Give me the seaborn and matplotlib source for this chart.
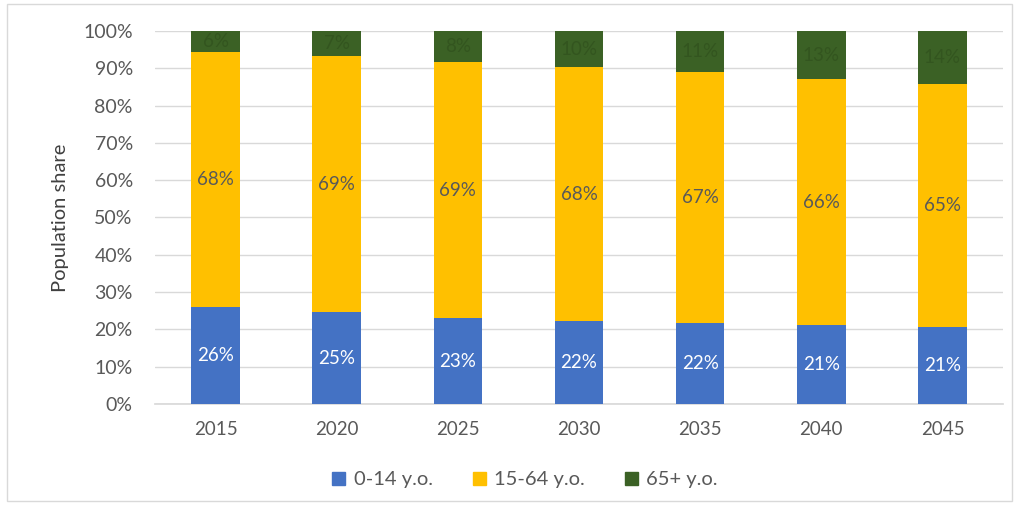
import matplotlib
matplotlib.use("Agg")
import matplotlib.pyplot as plt
import seaborn as sns
import pandas as pd
import numpy as np
from matplotlib.patches import Rectangle

years = ["2015", "2020", "2025", "2030", "2035", "2040", "2045"]
age_0_14 = [26.0, 24.6, 23.0, 22.3, 21.7, 21.2, 20.6]
age_15_64 = [68.4, 68.7, 68.7, 68.0, 67.3, 65.9, 65.2]
age_65p = [5.6, 6.7, 8.3, 9.7, 11.0, 12.9, 14.2]
series_names = ["0-14 y.o.", "15-64 y.o.", "65+ y.o."]
colors = ["#4472C4", "#FFC000", "#3B6125"]
label_colors = ["#FFFFFF", "#595959", "#33551F"]

sns.set_theme(style="white")
plt.rcParams["font.family"] = ["Lato", "DejaVu Sans"]

df = pd.DataFrame({"year": years, series_names[0]: age_0_14,
                   series_names[1]: age_15_64, series_names[2]: age_65p})

fig = plt.figure(figsize=(10.19, 5.09), dpi=100)
ax = fig.add_axes([155 / 1019, 1 - 404 / 509, (1003 - 155) / 1019, (404 - 31) / 509])

cum = np.zeros(len(years))
handles = []
for name, col in zip(series_names, colors):
    vals = df[name].to_numpy()
    tops = cum + vals
    sns.barplot(x=df["year"], y=tops, color=col, width=0.4, ax=ax,
                saturation=1, edgecolor="none")
    cum = tops

n = len(years)
for i, p in enumerate(ax.patches):
    p.set_zorder(5 - i // n)

cum = np.zeros(len(years))
for name, col, lc in zip(series_names, colors, label_colors):
    vals = df[name].to_numpy()
    for i, v in enumerate(vals):
        ax.text(i, cum[i] + v / 2, f"{round(v):d}%", ha="center", va="center",
                fontsize=13.5, color=lc, zorder=10)
    cum = cum + vals
    handles.append(Rectangle((0, 0), 1, 1, color=col))

ax.set_ylim(0, 100)
ax.set_xlim(-0.5, 6.5)
ax.set_yticks(np.arange(0, 101, 10))
ax.set_yticklabels([f"{t}%" for t in range(0, 101, 10)], fontsize=14, color="#595959")
ax.tick_params(axis="x", labelsize=13.5, colors="#595959", length=0, pad=12)
ax.tick_params(axis="y", length=0, pad=16)
ax.yaxis.grid(True, color="#D9D9D9", linewidth=1, zorder=0)
ax.set_axisbelow(True)
for s in ["top", "right", "left"]:
    ax.spines[s].set_visible(False)
ax.spines["bottom"].set_color("#D9D9D9")
ax.set_xlabel("")
ax.set_ylabel("Population share", fontsize=14.5, color="#404040")
ax.yaxis.set_label_coords((69 - 155) / 848, 0.5)

fig.legend(handles, series_names, loc="center", bbox_to_anchor=(525 / 1019, 1 - 480 / 509),
           ncol=3, frameon=False, fontsize=14.5, handlelength=0.65, handleheight=0.65,
           columnspacing=2.0, handletextpad=0.4, labelcolor="#595959")

fig.patches.append(Rectangle((7 / 1019, 8 / 509), 1 - 14 / 1019, 1 - 12 / 509, transform=fig.transFigure,
                             fill=False, edgecolor="#D9D9D9", linewidth=1))

fig.savefig("out.png", dpi=100)
